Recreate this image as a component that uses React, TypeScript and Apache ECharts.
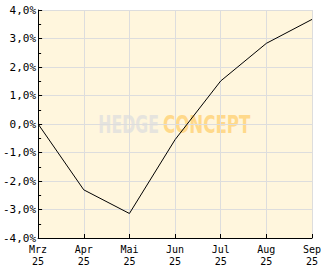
import React, { useEffect, useRef } from "react";
import * as echarts from "echarts";

const categories = ["Mrz\n25", "Apr\n25", "Mai\n25", "Jun\n25", "Jul\n25", "Aug\n25", "Sep\n25"];
const values = [0.0, -2.31, -3.14, -0.55, 1.51, 2.83, 3.67];
const yMin = -4;
const yMax = 4;
const yInterval = 1;

export default function App() {
  const ref = useRef<HTMLDivElement>(null);
  useEffect(() => {
    document.body.style.margin = "0";
    if (!ref.current) return;
    const chart = echarts.init(ref.current, null, { renderer: "svg" });
    const font = "'DejaVu Sans Mono', monospace";
    const wmFont = "bold 25px 'DejaVu Sans Condensed', 'DejaVu Sans', sans-serif";
    chart.setOption({
      animation: false,
      backgroundColor: "#ffffff",
      grid: {
        left: 36,
        right: 20,
        top: 10,
        bottom: 31,
        show: true,
        backgroundColor: "#FFF6DD",
        borderWidth: 0,
      },
      graphic: [
        {
          type: "text",
          x: 159,
          y: 124,
          scaleX: 0.7,
          style: {
            text: "HEDGE",
            fill: "#E6E4DE",
            font: wmFont,
            textAlign: "right",
            textVerticalAlign: "middle",
          },
          z: 0,
          silent: true,
        },
        {
          type: "text",
          x: 163,
          y: 124,
          scaleX: 0.74,
          style: {
            text: "CONCEPT",
            fill: "#FFD98A",
            font: wmFont,
            textAlign: "left",
            textVerticalAlign: "middle",
          },
          z: 0,
          silent: true,
        },
      ],
      xAxis: {
        type: "category",
        data: categories,
        boundaryGap: false,
        axisLine: { show: true, onZero: false, lineStyle: { color: "#000", width: 1 } },
        axisTick: { show: true, inside: true, length: 4, lineStyle: { color: "#000" } },
        axisLabel: {
          color: "#000",
          fontFamily: font,
          fontSize: 10,
          lineHeight: 12,
          margin: 5,
        },
        splitLine: { show: true, lineStyle: { color: "#DDDDDD", width: 1 } },
      },
      yAxis: {
        type: "value",
        min: yMin,
        max: yMax,
        interval: yInterval,
        axisLine: { show: true, lineStyle: { color: "#000", width: 1 } },
        axisTick: { show: true, inside: true, length: 4, lineStyle: { color: "#000" } },
        minorTick: { show: true, splitNumber: 2, length: 3, lineStyle: { color: "#000" } },
        axisLabel: {
          color: "#000",
          fontFamily: font,
          fontSize: 11,
          margin: 2,
          formatter: (v: number) => v.toFixed(1).replace(".", ",") + "%",
        },
        splitLine: { show: true, lineStyle: { color: "#DDDDDD", width: 1 } },
      },
      series: [
        {
          type: "line",
          data: values,
          symbol: "none",
          lineStyle: { color: "#000", width: 1 },
          z: 5,
        },
      ],
    });
    return () => chart.dispose();
  }, []);
  return <div ref={ref} style={{ width: 332, height: 269 }} />;
}
